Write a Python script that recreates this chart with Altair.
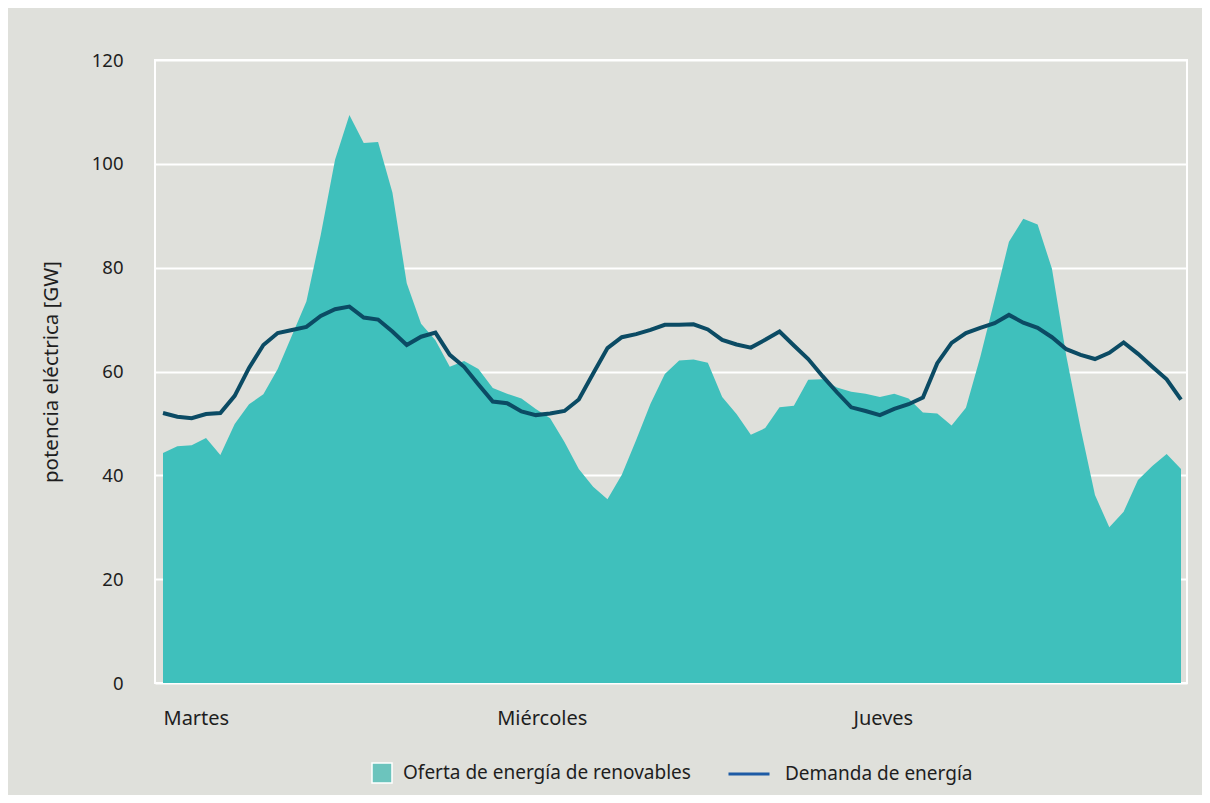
import altair as alt
import pandas as pd

# hourly index over three days
hours = list(range(72))

oferta = [44.3, 45.6, 45.8, 47.2, 43.9, 49.9, 53.7, 55.6, 60.5, 67.0,
          73.5, 86.3, 100.8, 109.4, 104.0, 104.2, 94.5, 77.0, 69.2, 66.0,
          60.9, 62.0, 60.5, 56.8, 55.7, 54.8, 52.8, 51.0, 46.4, 41.2,
          37.8, 35.4, 40.1, 46.8, 53.8, 59.5, 62.1, 62.3, 61.7, 55.1,
          51.8, 47.8, 49.1, 53.1, 53.4, 58.4, 58.5, 56.9, 56.1, 55.7,
          55.1, 55.7, 54.8, 52.1, 51.9, 49.6, 53.0, 62.8, 73.8, 85.0,
          89.4, 88.3, 79.8, 63.0, 49.0, 36.2, 30.0, 33.0, 39.1, 41.8,
          44.1, 41.2]

demanda = [52.0, 51.3, 51.0, 51.8, 52.0, 55.3, 60.7, 65.1, 67.4, 68.0,
           68.6, 70.7, 72.0, 72.5, 70.4, 70.0, 67.7, 65.1, 66.7, 67.5,
           63.2, 60.9, 57.5, 54.2, 53.9, 52.3, 51.6, 51.9, 52.4, 54.6,
           59.6, 64.5, 66.6, 67.2, 68.0, 69.0, 69.0, 69.1, 68.1, 66.1,
           65.2, 64.6, 66.1, 67.7, 65.0, 62.4, 59.1, 56.0, 53.1, 52.4,
           51.6, 52.8, 53.7, 55.0, 61.6, 65.5, 67.4, 68.4, 69.3, 70.9,
           69.4, 68.4, 66.6, 64.3, 63.2, 62.4, 63.6, 65.6, 63.4, 60.9,
           58.5, 54.6]

day_labels = ["Martes", "Miércoles", "Jueves"]
day_positions = [0, 23.27, 48.12]
y_ticks = [0, 20, 40, 60, 80, 100, 120]

serie_oferta = "Oferta de energía de renovables"
serie_demanda = "Demanda de energía"

BG = "#dfe0db"
TEAL = "#3fc0bc"
NAVY = "#0b4b64"
FONT = "Noto Sans"
TXT = "#1e1e1e"

df = pd.DataFrame({"hora": hours, "oferta": oferta, "demanda": demanda})
legend_oferta = pd.DataFrame({"hora": [0], "v": [0], "serie": [serie_oferta]})
legend_demanda = pd.DataFrame({"hora": [0], "v": [0], "serie": [serie_demanda]})

label_expr = (
    f"datum.value < 10 ? '{day_labels[0]}' : "
    f"(datum.value < 35 ? '{day_labels[1]}' : '{day_labels[2]}')"
)

x_enc = alt.X(
    "hora:Q",
    scale=alt.Scale(domain=[-0.558, 71.418], nice=False, zero=False),
    axis=alt.Axis(
        values=day_positions, labelExpr=label_expr, title=None,
        grid=False, domain=False, ticks=False, tickSize=0,
        labelAlign="left", labelBaseline="alphabetic", labelPadding=41,
        labelFontSize=20, labelFont=FONT, labelColor=TXT,
    ),
)

y_scale = alt.Scale(domain=[0, 120], nice=False)
y_axis = alt.Axis(
    values=y_ticks, title="potencia eléctrica [GW]",
    grid=True, gridColor="white", gridWidth=2,
    domain=False, ticks=False, tickSize=0,
    labelPadding=32, labelFontSize=18.5, labelFont=FONT, labelColor=TXT,
    titleFont=FONT, titleFontSize=20.5, titleFontWeight="normal", titleColor=TXT,
    titleAngle=270, titleX=-98, titleY=311.5, titleAlign="center",
    titleBaseline="alphabetic",
)

area = alt.Chart(df).mark_area(color=TEAL, opacity=1).encode(
    x=x_enc,
    y=alt.Y("oferta:Q", scale=y_scale, axis=y_axis),
)

line = alt.Chart(df).mark_line(color=NAVY, strokeWidth=4).encode(
    x="hora:Q",
    y="demanda:Q",
)

leg1 = alt.Chart(legend_oferta).mark_area().encode(
    x="hora:Q",
    y="v:Q",
    fill=alt.Fill(
        "serie:N",
        scale=alt.Scale(domain=[serie_oferta], range=["#6cc4bd"]),
        legend=alt.Legend(
            title=None, orient="none", legendX=216, legendY=702,
            symbolType="square", symbolSize=400, symbolStrokeColor="white",
            symbolStrokeWidth=1.5, labelOffset=10, padding=0, labelLimit=0,
            labelFontSize=19, labelFont=FONT, labelColor=TXT,
        ),
    ),
)

leg2 = alt.Chart(legend_demanda).mark_line().encode(
    x="hora:Q",
    y="v:Q",
    stroke=alt.Stroke(
        "serie:N",
        scale=alt.Scale(domain=[serie_demanda], range=["#1d5ba5"]),
        legend=alt.Legend(
            title=None, orient="none", legendX=572, legendY=692,
            symbolType="stroke", symbolSize=1681, symbolStrokeWidth=3,
            labelOffset=14, padding=0, labelLimit=0,
            labelFontSize=19, labelFont=FONT, labelColor=TXT,
        ),
    ),
)

chart = (
    alt.layer(area, line, leg1, leg2)
    .resolve_scale(fill="independent", stroke="independent")
    .properties(
        width=1032, height=623,
        autosize=alt.AutoSizeParams(type="none"),
        padding={"left": 147, "top": 52, "right": 15, "bottom": 112},
        background=BG,
    )
    .configure_view(stroke="white", strokeWidth=2, fill=BG)
)

chart.save("out.html", embed_options={"renderer": "svg", "actions": False})
